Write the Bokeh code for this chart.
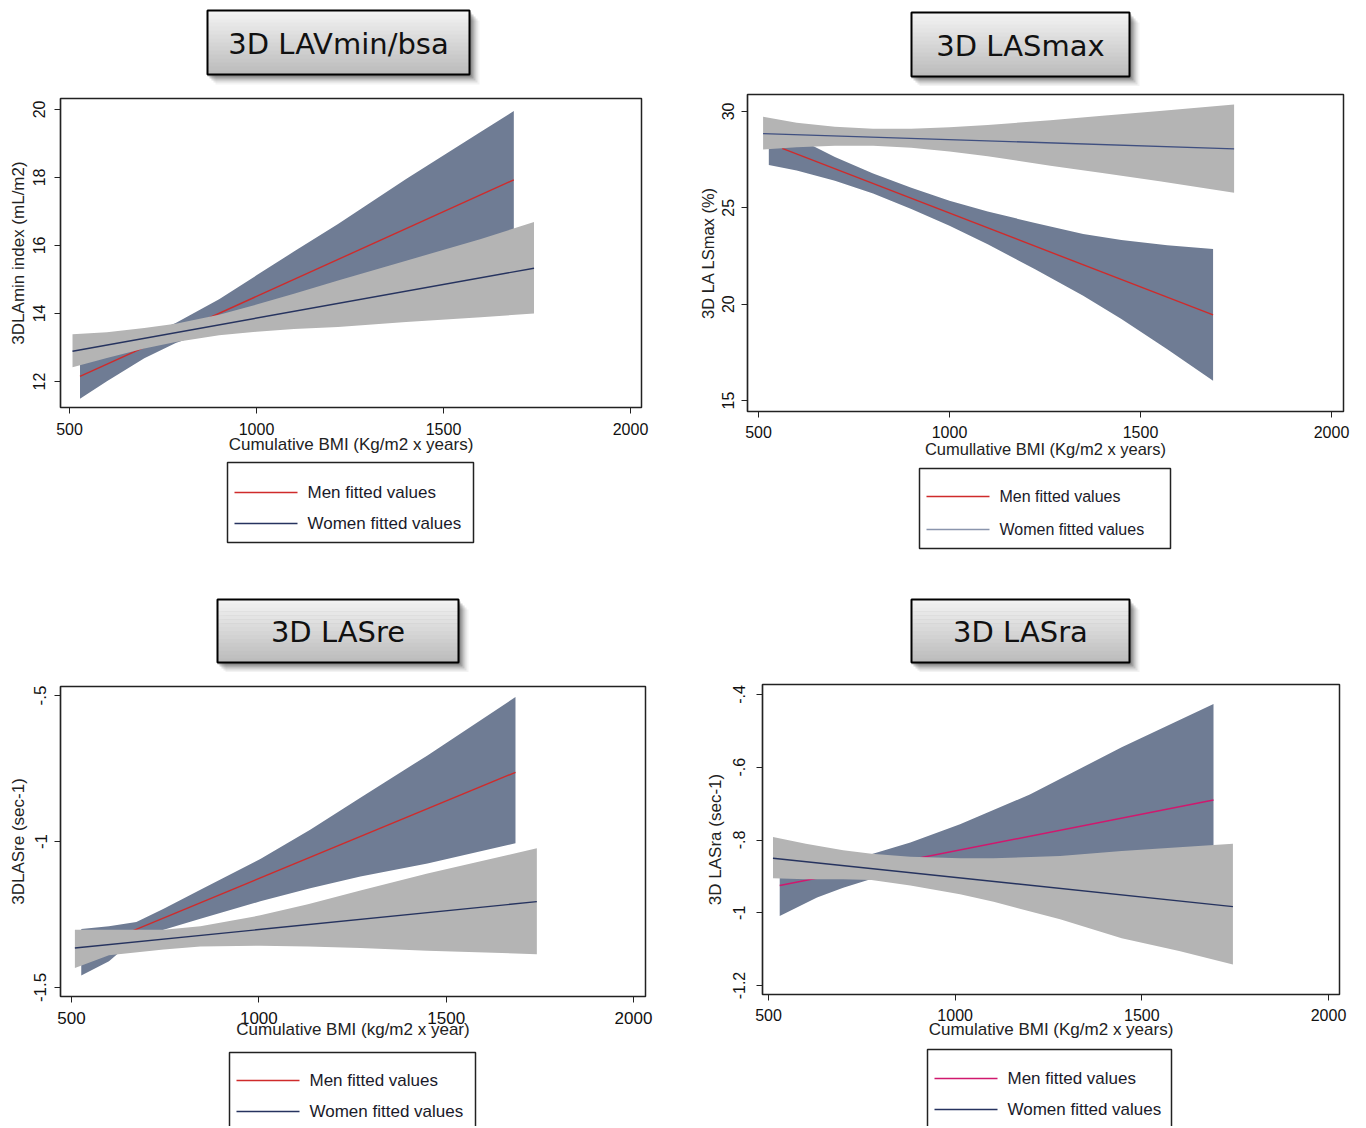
from bokeh.plotting import figure
from bokeh.models import Range1d, FixedTicker, CustomJSTickFormatter
from bokeh.core.properties import value
from bokeh.layouts import row, column
from bokeh.embed import file_html
from bokeh.resources import INLINE

# ---------------- data ----------------
x_ticks = [500, 1000, 1500, 2000]

# Panel 1: 3D LAVmin/bsa
p1_men_x = [528, 600, 700, 784, 900, 1000, 1100, 1218, 1400, 1600, 1688]
p1_men_hi = [12.81, 13.01, 13.34, 13.72, 14.42, 15.12, 15.82, 16.63, 17.95, 19.34, 19.95]
p1_men_lo = [11.49, 12.01, 12.68, 13.13, 13.58, 13.88, 14.18, 14.55, 15.05, 15.64, 15.91]
p1_men_fit_x = [528, 1688]
p1_men_fit = [12.15, 17.93]
p1_wom_x = [508, 600, 700, 784, 900, 1000, 1100, 1218, 1400, 1600, 1742]
p1_wom_hi = [13.39, 13.45, 13.57, 13.70, 13.96, 14.26, 14.58, 14.97, 15.55, 16.19, 16.69]
p1_wom_lo = [12.42, 12.69, 12.97, 13.16, 13.36, 13.46, 13.54, 13.60, 13.75, 13.89, 14.00]
p1_wom_fit_x = [508, 1742]
p1_wom_fit = [12.89, 15.33]
p1_y_ticks = [12, 14, 16, 18, 20]

# Panel 2: 3D LASmax
p2_men_x = [527, 600, 700, 800, 900, 1000, 1100, 1224, 1350, 1450, 1570, 1690]
p2_men_hi = [29.48, 28.64, 27.64, 26.78, 26.04, 25.37, 24.81, 24.21, 23.64, 23.33, 23.06, 22.86]
p2_men_lo = [27.22, 26.94, 26.40, 25.74, 24.94, 24.07, 23.11, 21.81, 20.44, 19.23, 17.66, 16.02]
p2_men_fit_x = [562, 1690]
p2_men_fit = [28.08, 19.44]
p2_wom_x = [512, 600, 700, 800, 900, 1000, 1100, 1264, 1400, 1550, 1745]
p2_wom_hi = [29.72, 29.42, 29.20, 29.10, 29.10, 29.18, 29.30, 29.54, 29.78, 30.02, 30.36]
p2_wom_lo = [28.03, 28.14, 28.22, 28.22, 28.12, 27.92, 27.68, 27.18, 26.80, 26.38, 25.78]
p2_wom_fit_x = [512, 1745]
p2_wom_fit = [28.85, 28.06]
p2_y_ticks = [15, 20, 25, 30]

# Panel 3: 3D LASre
p3_men_x = [526, 600, 673, 746, 844, 1004, 1137, 1271, 1450, 1685]
p3_men_hi = [-1.300, -1.290, -1.276, -1.230, -1.165, -1.060, -0.960, -0.850, -0.705, -0.505]
p3_men_lo = [-1.459, -1.410, -1.330, -1.302, -1.265, -1.205, -1.160, -1.120, -1.075, -1.006]
p3_men_fit_x = [526, 1685]
p3_men_fit = [-1.379, -0.763]
p3_wom_x = [509, 600, 746, 844, 1004, 1131, 1271, 1450, 1742]
p3_wom_hi = [-1.302, -1.302, -1.302, -1.290, -1.253, -1.215, -1.168, -1.110, -1.023]
p3_wom_lo = [-1.433, -1.390, -1.370, -1.360, -1.357, -1.360, -1.365, -1.374, -1.386]
p3_wom_fit_x = [509, 1742]
p3_wom_fit = [-1.365, -1.206]
p3_y_ticks = [-1.5, -1.0, -0.5]

# Panel 4: 3D LASra
p4_men_x = [530, 630, 700, 773, 880, 1013, 1200, 1446, 1692]
p4_men_hi = [-0.841, -0.850, -0.851, -0.840, -0.807, -0.757, -0.675, -0.545, -0.426]
p4_men_lo = [-1.009, -0.958, -0.931, -0.908, -0.901, -0.897, -0.905, -0.935, -0.954]
p4_men_fit_x = [530, 1692]
p4_men_fit = [-0.925, -0.690]
p4_wom_x = [512, 600, 700, 776, 880, 1013, 1103, 1281, 1446, 1600, 1744]
p4_wom_hi = [-0.792, -0.810, -0.828, -0.838, -0.846, -0.850, -0.850, -0.844, -0.830, -0.820, -0.810]
p4_wom_lo = [-0.905, -0.908, -0.908, -0.910, -0.925, -0.949, -0.970, -1.018, -1.070, -1.105, -1.142]
p4_wom_fit_x = [512, 1744]
p4_wom_fit = [-0.850, -0.983]
p4_y_ticks = [-1.2, -1.0, -0.8, -0.6, -0.4]

titles = ["3D LAVmin/bsa", "3D LASmax", "3D LASre", "3D LASra"]
x_titles = ["Cumulative BMI (Kg/m2 x years)", "Cumullative BMI (Kg/m2 x years)",
            "Cumulative BMI (kg/m2 x year)", "Cumulative BMI (Kg/m2 x years)"]
y_titles = ["3DLAmin index (mL/m2)", "3D LA LSmax (%)", "3DLASre (sec-1)", "3D LASra (sec-1)"]
legend_labels = ["Men fitted values", "Women fitted values"]

# ---------------- styles ----------------
MEN_BAND = "#6f7c94"
WOM_BAND = "#b4b4b4"
RED = "#cf2b2b"
NAVY = "#26335f"
MAGENTA = "#d0186e"
FONT = "Liberation Sans"
TITLE_FONT = "DejaVu Sans"

fmt = CustomJSTickFormatter(code="""
let s = (Math.round(tick*10)/10).toString();
return s.replace(/^(-?)0\\./, "$1.");
""")


def lerp_hex(c0, c1, t):
    a = [int(c0[i:i + 2], 16) for i in (1, 3, 5)]
    b = [int(c1[i:i + 2], 16) for i in (1, 3, 5)]
    return "#" + "".join("%02x" % round(a[k] + (b[k] - a[k]) * t) for k in range(3))


def deco_fig(area, fx):
    """Blank figure in page pixel coordinates; its frame spans the panel's frame columns
    (so the column layout aligns it with the plot below) and the full area height."""
    x0, y0, x1, y1 = area
    fl, fr = fx
    f = figure(frame_width=fr - fl, frame_height=y1 - y0,
               min_border_left=fl - x0, min_border_right=x1 - fr,
               min_border_top=0, min_border_bottom=0,
               x_range=Range1d(fl, fr), y_range=Range1d(y1, y0),
               x_axis_location=None, y_axis_location=None,
               output_backend="svg", toolbar_location=None)
    f.grid.visible = False
    f.outline_line_color = None
    f.background_fill_color = "white"
    f.border_fill_color = "white"
    return f


def title_fig(area, fx, tbox, text, size):
    f = deco_fig(area, fx)
    x0, y0, x1, y1 = tbox
    for off, a in [(10, 0.05), (8, 0.09), (6, 0.14), (4, 0.20), (2, 0.26)]:
        f.quad(left=x0 + off - 2, right=x1 + off, top=y0 + off, bottom=y1 + off,
               fill_color="#1a1a1a", fill_alpha=a, line_alpha=0)
    n = 16
    h = (y1 - y0) / n
    for i in range(n):
        c = lerp_hex("#f2f2f2", "#bcbcbc", i / (n - 1))
        f.quad(left=x0, right=x1, top=y0 + i * h, bottom=y0 + (i + 1) * h + 0.5,
               fill_color=c, line_alpha=0)
    f.quad(left=x0, right=x1, top=y0, bottom=y1, fill_alpha=0,
           line_color="black", line_width=2)
    f.text(x=[(x0 + x1) / 2], y=[(y0 + y1) / 2 + 1], text=[text],
           text_font=value(TITLE_FONT), text_font_size=size, text_color="#111111",
           text_align="center", text_baseline="middle")
    return f


def legend_fig(area, fx, lbox, colors, fsize):
    f = deco_fig(area, fx)
    x0, y0, x1, y1, r1, r2 = lbox
    f.quad(left=x0, right=x1, top=y0, bottom=y1, fill_color="white",
           line_color="#222222", line_width=1.5)
    for yy, col, lab in [(r1, colors[0], legend_labels[0]), (r2, colors[1], legend_labels[1])]:
        f.line([x0 + 7, x0 + 70], [yy, yy], line_color=col, line_width=1.6)
        f.text(x=[x0 + 80], y=[yy], text=[lab], text_font=value(FONT),
               text_font_size=fsize, text_color="#1a1a2a",
               text_align="left", text_baseline="middle")
    return f


def main_fig(frame, area, xr, yr, yticks, ytitle, xtitle, tickfont, labfont,
             xl_stand, xa_stand, yl_stand, ya_stand, men, wom, men_col, wom_col, y_fmt=None):
    fl, ft, fr, fb = frame
    ax0, ay0, ax1, ay1 = area
    p = figure(frame_width=fr - fl, frame_height=fb - ft,
               min_border_left=fl - ax0, min_border_right=ax1 - fr,
               min_border_top=ft - ay0, min_border_bottom=ay1 - fb,
               x_range=Range1d(*xr), y_range=Range1d(*yr),
               output_backend="svg", toolbar_location=None)
    p.grid.visible = False
    p.outline_line_color = "#222222"
    p.outline_line_width = 1.5
    p.background_fill_color = "white"
    p.border_fill_color = "white"

    mx, mhi, mlo, mfx, mfy = men
    wx, whi, wlo, wfx, wfy = wom
    p.varea(x=mx, y1=mlo, y2=mhi, fill_color=MEN_BAND)
    p.line(mfx, mfy, line_color=men_col, line_width=1.4)
    p.varea(x=wx, y1=wlo, y2=whi, fill_color=WOM_BAND)
    p.line(wfx, wfy, line_color=wom_col, line_width=1.4)

    for ax in (p.xaxis[0], p.yaxis[0]):
        ax.axis_line_color = "#222222"
        ax.axis_line_width = 1.2
        ax.major_tick_line_color = "#222222"
        ax.major_tick_out = 6
        ax.major_tick_in = 0
        ax.minor_tick_line_color = None
        ax.major_label_text_font = FONT
        ax.major_label_text_font_size = tickfont
        ax.major_label_text_color = "#111111"
        ax.axis_label_text_font = FONT
        ax.axis_label_text_font_size = labfont
        ax.axis_label_text_font_style = "normal"
        ax.axis_label_text_color = "#222222"
    p.xaxis[0].ticker = FixedTicker(ticks=x_ticks)
    p.yaxis[0].ticker = FixedTicker(ticks=yticks)
    p.yaxis[0].major_label_orientation = "vertical"
    if y_fmt is not None:
        p.yaxis[0].formatter = y_fmt
    p.xaxis[0].axis_label = xtitle
    p.yaxis[0].axis_label = ytitle
    p.xaxis[0].major_label_standoff = xl_stand
    p.xaxis[0].axis_label_standoff = xa_stand
    p.yaxis[0].major_label_standoff = yl_stand
    p.yaxis[0].axis_label_standoff = ya_stand
    return p


# ---------------- panel 1 ----------------
fx1 = (60, 641)
t1 = title_fig((0, 0, 690, 88), fx1, (207, 10, 469, 74), titles[0], "29px")
m1 = main_fig((60, 98, 641, 407), (0, 88, 690, 458), (475.9, 2029.4), (11.235, 20.32),
              p1_y_ticks, y_titles[0], x_titles[0], "16px", "17px", 9, -3, 9, 3,
              (p1_men_x, p1_men_hi, p1_men_lo, p1_men_fit_x, p1_men_fit),
              (p1_wom_x, p1_wom_hi, p1_wom_lo, p1_wom_fit_x, p1_wom_fit), RED, NAVY)
l1 = legend_fig((0, 458, 690, 570), fx1, (227, 462, 473, 542, 492, 523), [RED, NAVY], "17px")

# ---------------- panel 2 ----------------
fx2 = (747, 1343)
t2 = title_fig((690, 0, 1358, 86), fx2, (911, 12, 1129, 76), titles[1], "29px")
m2 = main_fig((747, 94, 1343, 411), (690, 86, 1358, 462), (471.2, 2031.4), (14.43, 30.88),
              p2_y_ticks, y_titles[1], x_titles[1], "16px", "16.5px", 8, -1, 7, 3,
              (p2_men_x, p2_men_hi, p2_men_lo, p2_men_fit_x, p2_men_fit),
              (p2_wom_x, p2_wom_hi, p2_wom_lo, p2_wom_fit_x, p2_wom_fit), RED, "#3f4f80")
l2 = legend_fig((690, 462, 1358, 570), fx2, (919, 468, 1170, 548, 496, 529), [RED, "#8a95ad"], "16px")

# ---------------- panel 3 ----------------
fx3 = (60, 645)
t3 = title_fig((0, 570, 690, 672), fx3, (217, 599, 458, 662), titles[2], "29px")
m3 = main_fig((60, 686, 645, 996), (0, 672, 690, 1046), (470.6, 2032.0), (-1.531, -0.469),
              p3_y_ticks, y_titles[2], x_titles[2], "17px", "17px", 9, -7, 8, 4,
              (p3_men_x, p3_men_hi, p3_men_lo, p3_men_fit_x, p3_men_fit),
              (p3_wom_x, p3_wom_hi, p3_wom_lo, p3_wom_fit_x, p3_wom_fit), RED, NAVY, fmt)
l3 = legend_fig((0, 1046, 690, 1126), fx3, (229, 1052, 475, 1140, 1080, 1111), [RED, NAVY], "17px")

# ---------------- panel 4 ----------------
fx4 = (762, 1339)
t4 = title_fig((690, 570, 1358, 672), fx4, (911, 599, 1129, 662), titles[3], "29px")
m4 = main_fig((762, 684, 1339, 994), (690, 672, 1358, 1046), (483.9, 2029.5), (-1.2247, -0.3725),
              p4_y_ticks, y_titles[3], x_titles[3], "16px", "17px", 8, -4, 11, 6,
              (p4_men_x, p4_men_hi, p4_men_lo, p4_men_fit_x, p4_men_fit),
              (p4_wom_x, p4_wom_hi, p4_wom_lo, p4_wom_fit_x, p4_wom_fit), MAGENTA, NAVY, fmt)
l4 = legend_fig((690, 1046, 1358, 1126), fx4, (927, 1049, 1171, 1140, 1078, 1109), [MAGENTA, NAVY], "17px")

layout = column(row(column(t1, m1, l1), column(t2, m2, l2)),
                row(column(t3, m3, l3), column(t4, m4, l4)))
open("out.html", "w").write(file_html(layout, INLINE))
